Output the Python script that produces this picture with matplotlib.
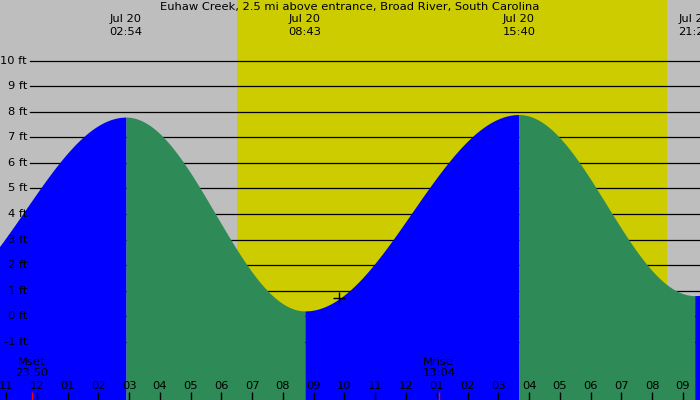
import numpy as np
import matplotlib
matplotlib.use("Agg")
import matplotlib.pyplot as plt

# ---- data (hours relative to Jul 20 00:00) ----
title = "Euhaw Creek, 2.5 mi above entrance, Broad River, South Carolina"
extreme_times = [-3.65, 2.9, 8.7167, 15.6667, 21.3833, 27.9]   # 20:21(Jul19), 02:54, 08:43, 15:40, 21:23, next high
extreme_heights = [0.5, 7.8, 0.2, 7.9, 0.8, 7.6]
label_times = [2.9, 8.7167, 15.6667, 21.3833]
label_texts = ["02:54", "08:43", "15:40", "21:23"]
label_dates = ["Jul 20", "Jul 20", "Jul 20", "Jul 20"]
sunrise, sunset = 6.5, 20.483
moon_events = [(-0.1667, "Mset", "23:50"), (13.0667, "Mrise", "13:04")]
now_time, now_height = 9.817, 0.7
hour_ticks = list(range(-1, 22))
hour_labels = ["11", "12", "01", "02", "03", "04", "05", "06", "07", "08", "09", "10",
               "11", "12", "01", "02", "03", "04", "05", "06", "07", "08", "09"]
ft_levels = list(range(-1, 11))

# ---- figure ----
W, H = 700, 400
fig = plt.figure(figsize=(7, 4), dpi=100)
ax = fig.add_axes([0, 0, 1, 1])
xmin, xmax = -1.195, 21.555
ymin, ymax = -3.294, 12.392
ax.set_xlim(xmin, xmax)
ax.set_ylim(ymin, ymax)
ax.axis("off")

GRAY = "#BEBEBE"
YELLOW = "#CCCC00"
BLUE = "#0000FF"
GREEN = "#2E8B57"
fs = 8.25
fam = "DejaVu Sans"

ax.axvspan(xmin, xmax, color=GRAY, zorder=0, lw=0)
ax.axvspan(sunrise, sunset, color=YELLOW, zorder=0.5, lw=0)

for lv in ft_levels:
    ax.axhline(lv, xmin=30 / W, xmax=1, color="black", lw=0.9, zorder=1)

# tide curve: cosine shape between successive extremes
for i in range(len(extreme_times) - 1):
    t0, t1 = extreme_times[i], extreme_times[i + 1]
    h0, h1 = extreme_heights[i], extreme_heights[i + 1]
    t = np.linspace(t0, t1, 200)
    h = h0 + (h1 - h0) * (1 - np.cos(np.pi * (t - t0) / (t1 - t0))) / 2
    col = BLUE if h1 > h0 else GREEN
    ax.fill_between(t, ymin, h, color=col, lw=0, zorder=2)

for lv in ft_levels:
    ax.text(27 / W, lv, f"{lv} ft", transform=ax.get_yaxis_transform(),
            ha="right", va="center", fontsize=fs, family=fam, zorder=5)

ax.text(0.5, 1 - 7 / H, title, transform=ax.transAxes, ha="center", va="center",
        fontsize=fs, family=fam, zorder=5)
xt = ax.get_xaxis_transform()
for tt, d, s in zip(label_times, label_dates, label_texts):
    ax.text(tt, 1 - 19 / H, d, transform=xt, ha="center", va="center", fontsize=fs, family=fam, zorder=5)
    ax.text(tt, 1 - 32 / H, s, transform=xt, ha="center", va="center", fontsize=fs, family=fam, zorder=5)

for tt, nm, s in moon_events:
    ax.text(tt, 1 - 362 / H, nm, transform=xt, ha="center", va="center", fontsize=fs, family=fam, zorder=5)
    ax.text(tt, 1 - 373 / H, s, transform=xt, ha="center", va="center", fontsize=fs, family=fam, zorder=5)

for tt, lab in zip(hour_ticks, hour_labels):
    ax.text(tt, 1 - 386 / H, lab, transform=xt, ha="center", va="center", fontsize=fs, family=fam, zorder=5)
    ax.plot([tt, tt], [0, 8 / H], transform=xt, color="black", lw=1, zorder=5, solid_capstyle="butt")
for tt, nm, s in moon_events:
    ax.plot([tt, tt], [0, 8 / H], transform=xt, color="red", lw=1, zorder=6, solid_capstyle="butt")

ax.plot([now_time], [now_height], marker="+", color="black", ms=9, mew=1, zorder=6)

fig.savefig("out.png", dpi=100)
